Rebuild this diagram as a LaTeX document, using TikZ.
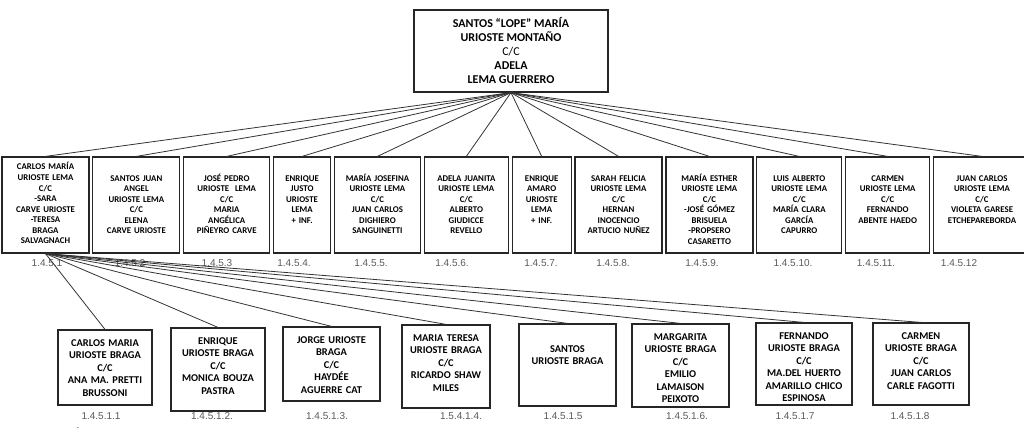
\documentclass[tikz,border=0pt]{standalone}
\usepackage{fontspec}
\setmainfont{Carlito}
\newfontfamily\numfont{Liberation Sans}
\usetikzlibrary{positioning}

\begin{document}
\begin{tikzpicture}[x=0.75pt, y=-0.75pt]
\tikzstyle{rootbox} = [rectangle, draw=black!85, line width=0.9pt, minimum width=145.5pt, minimum height=61.5pt, align=center, font=\fontsize{9}{10.5}\selectfont\bfseries]
\tikzstyle{sonbox} = [rectangle, draw=black!85, line width=0.9pt, inner xsep=0pt, inner ysep=0pt, align=center, text height=18pt, text depth=54pt, font=\fontsize{6.6}{7.9}\selectfont\bfseries]
\tikzstyle{grandbox} = [rectangle, draw=black!85, line width=0.9pt, inner xsep=0pt, inner ysep=0pt, align=center, text height=12pt, font=\fontsize{7.8}{9.4}\selectfont\bfseries]
\tikzstyle{numlabel} = [font=\numfont\fontsize{7.5}{9}\selectfont, text=black!65]
\tikzstyle{link} = [line width=0.6pt, black!80]

\useasboundingbox (0,0) rectangle (1024,431);

\node (root) [rootbox] at (511,51) {SANTOS “LOPE” MARÍA\\URIOSTE MONTAÑO\\{\mdseries C/C}\\ADELA\\LEMA GUERRERO};

% children
\node (s1) [sonbox, text width=65.25pt, text height=9.75pt, text depth=62.25pt] at (45.5,205) {CARLOS MARÍA\\URIOSTE LEMA\\C/C\\-SARA\\CARVE URIOSTE\\-TERESA\\BRAGA\\SALVAGNACH};
\node (s2) [sonbox, text width=65.25pt, right=2pt of s1] {SANTOS JUAN\\ANGEL\\URIOSTE LEMA\\C/C\\ELENA\\CARVE URIOSTE};
\node (s3) [sonbox, text width=64.5pt, right=2pt of s2] {JOSÉ PEDRO\\URIOSTE\ \ LEMA\\C/C\\MARIA\\ANGÉLICA\\PIÑEYRO CARVE};
\node (s4) [sonbox, text width=42.75pt, right=2pt of s3] {ENRIQUE\\JUSTO\\URIOSTE\\LEMA\\+ INF.};
\node (s5) [sonbox, text width=64.5pt, right=2pt of s4] {MARÍA JOSEFINA\\URIOSTE LEMA\\C/C\\JUAN CARLOS\\DIGHIERO\\SANGUINETTI};
\node (s6) [sonbox, text width=63pt, right=2pt of s5] {ADELA JUANITA\\URIOSTE LEMA\\C/C\\ALBERTO\\GIUDICCE\\REVELLO};
\node (s7) [sonbox, text width=44.25pt, right=2pt of s6] {ENRIQUE\\AMARO\\URIOSTE\\LEMA\\+ INF.};
\node (s8) [sonbox, text width=65.25pt, right=2pt of s7] {SARAH FELICIA\\URIOSTE LEMA\\C/C\\HERNAN\\INOCENCIO\\ARTUCIO NUÑEZ};
\node (s9) [sonbox, text width=65.25pt, right=2pt of s8] {MARÍA ESTHER\\URIOSTE LEMA\\C/C\\-JOSÉ GÓMEZ\\BRISUELA\\-PROPSERO\\CASARETTO};
\node (s10) [sonbox, text width=63.75pt, right=2pt of s9] {LUIS ALBERTO\\URIOSTE LEMA\\C/C\\MARÍA CLARA\\GARCÍA\\CAPURRO};
\node (s11) [sonbox, text width=63pt, right=2pt of s10] {CARMEN\\URIOSTE LEMA\\C/C\\FERNANDO\\ABENTE HAEDO};
\node (s12) [sonbox, text width=72.75pt, right=2pt of s11] {JUAN CARLOS\\URIOSTE LEMA\\C/C\\VIOLETA GARESE\\ETCHEPAREBORDA};

\node (n1) [numlabel] at (47,263) {1.4.5.1};
\node (n2) [numlabel] at (130,263) {1.4.5.2};
\node (n3) [numlabel] at (217,263) {1.4.5.3};
\node (n4) [numlabel] at (294,263) {1.4.5.4.};
\node (n5) [numlabel] at (371,263) {1.4.5.5.};
\node (n6) [numlabel] at (452,263) {1.4.5.6.};
\node (n7) [numlabel] at (541,263) {1.4.5.7.};
\node (n8) [numlabel] at (613,263) {1.4.5.8.};
\node (n9) [numlabel] at (702,263) {1.4.5.9.};
\node (n10) [numlabel] at (793,263) {1.4.5.10.};
\node (n11) [numlabel] at (876,263) {1.4.5.11.};
\node (n12) [numlabel] at (959,263) {1.4.5.12};

% grandchildren
\node (g1) [grandbox, text width=70.5pt, text depth=44.25pt] at (105,367.5) {CARLOS MARIA\\URIOSTE BRAGA\\C/C\\ANA MA. PRETTI\\BRUSSONI};
\node (g2) [grandbox, text width=70.5pt, text depth=50.25pt] at (218,369.5) {ENRIQUE\\URIOSTE BRAGA\\C/C\\MONICA BOUZA\\PASTRA};
\node (g3) [grandbox, text width=72.75pt, text depth=43.5pt] at (331.5,364) {JORGE URIOSTE\\BRAGA\\C/C\\HAYDÉE\\AGUERRE CAT};
\node (g4) [grandbox, text width=66pt, text depth=50.25pt] at (446,366.5) {MARIA TERESA\\URIOSTE BRAGA\\C/C\\RICARDO SHAW\\MILES};
\node (g5) [grandbox, text width=72.75pt, text height=21pt, text depth=40.5pt] at (567.5,365) {SANTOS\\URIOSTE BRAGA};
\node (g6) [grandbox, text width=72.75pt, text depth=50.25pt] at (680.5,365.5) {MARGARITA\\URIOSTE BRAGA\\C/C\\EMILIO\\LAMAISON\\PEIXOTO};
\node (g7) [grandbox, text width=72pt, text depth=49.5pt] at (804,364) {FERNANDO\\URIOSTE BRAGA\\C/C\\MA.DEL HUERTO\\AMARILLO CHICO\\ESPINOSA};
\node (g8) [grandbox, text width=72pt, text depth=49.5pt] at (921,364) {CARMEN\\URIOSTE BRAGA\\C/C\\JUAN CARLOS\\CARLE FAGOTTI};

\node (m1) [numlabel] at (101,416) {1.4.5.1.1};
\node (m2) [numlabel] at (212,416) {1.4.5.1.2.};
\node (m3) [numlabel] at (327,416) {1.4.5.1.3.};
\node (m4) [numlabel] at (461,416) {1.5.4.1.4.};
\node (m5) [numlabel] at (563,416) {1.4.5.1.5};
\node (m6) [numlabel] at (687,416) {1.4.5.1.6.};
\node (m7) [numlabel] at (795,416) {1.4.5.1.7};
\node (m8) [numlabel] at (910,416) {1.4.5.1.8};
\node (dot) [numlabel] at (78,428) {.};

\draw [link] (root.south) -- (s1.north);
\draw [link] (root.south) -- (s2.north);
\draw [link] (root.south) -- (s3.north);
\draw [link] (root.south) -- (s4.north);
\draw [link] (root.south) -- (s5.north);
\draw [link] (root.south) -- (s6.north);
\draw [link] (root.south) -- (s7.north);
\draw [link] (root.south) -- (s8.north);
\draw [link] (root.south) -- (s9.north);
\draw [link] (root.south) -- (s10.north);
\draw [link] (root.south) -- (s11.north);
\draw [link] (root.south) -- (s12.north);

\draw [link] (s1.south) -- (g1.north);
\draw [link] (s1.south) -- (g2.north);
\draw [link] (s1.south) -- (g3.north);
\draw [link] (s1.south) -- (g4.north);
\draw [link] (s1.south) -- (g5.north);
\draw [link] (s1.south) -- (g6.north);
\draw [link] (s1.south) -- (g7.north);
\draw [link] (s1.south) -- (g8.north);

\end{tikzpicture}
\end{document}
